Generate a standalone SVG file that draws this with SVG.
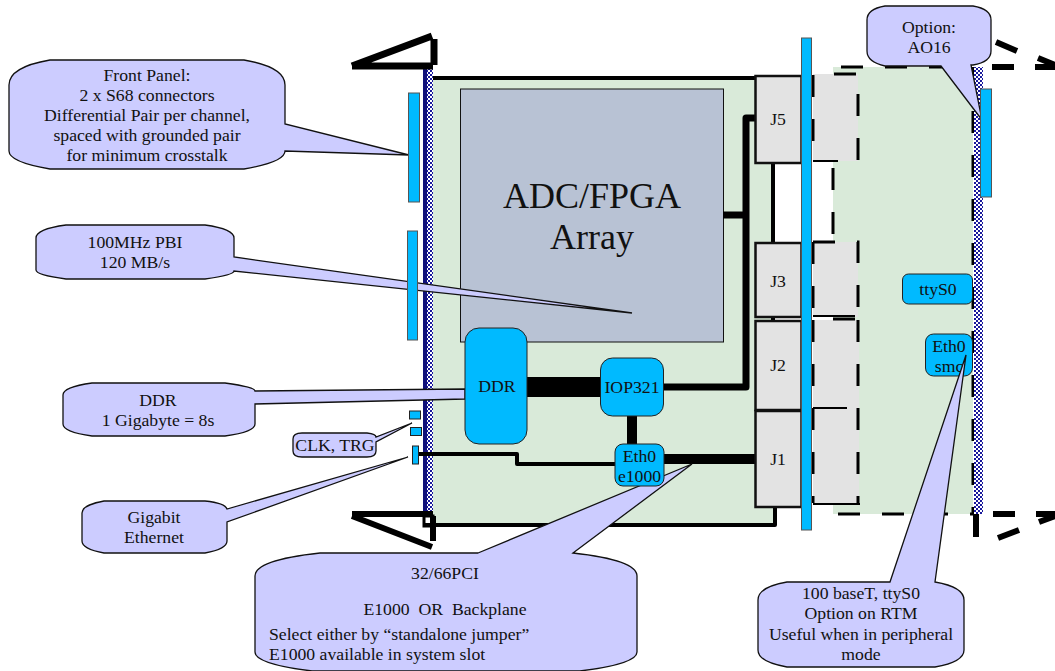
<svg xmlns="http://www.w3.org/2000/svg" width="1055" height="671" viewBox="0 0 1055 671">
<style>
text{font-family:"Liberation Serif","Times New Roman",serif;fill:#111;text-anchor:middle;font-size:17.7px;white-space:pre}
.co{fill:#ccccff;stroke:#111;stroke-width:1.3}
.bl{fill:#00baff;stroke:#222;stroke-width:1}
.bar{fill:#00baff;stroke:#555;stroke-width:1}
.j{fill:#e3e3e3;stroke:#111;stroke-width:2.5}
.gr{fill:#e3e3e3}
.w{fill:none;stroke:#000;stroke-linejoin:round}
.d{fill:none;stroke:#000;stroke-width:3;stroke-dasharray:22 22}
</style>
<defs>
<pattern id="chk" width="4" height="4" patternUnits="userSpaceOnUse">
<rect width="4" height="4" fill="#fff"/>
<rect width="2" height="2" fill="#1a1a9c"/>
<rect x="2" y="2" width="2" height="2" fill="#1a1a9c"/>
</pattern>
</defs>
<g id="rtm">
<rect x="833" y="67" width="140" height="447" fill="#d9ead9"/>
<rect class="gr" x="813" y="74" width="45" height="87"/>
<rect class="gr" x="813" y="242" width="45" height="75"/>
<rect class="gr" x="813" y="320" width="46" height="183"/>
<path class="d" d="M841 67H973M833 168V243M838 514H973M973 67V514"/>
<path class="d" d="M834 74H858V161M813 75V161"/>
<path class="d" d="M813 242H858V317M813 242V317M858 320V503M813 320V503"/>
<path class="w" stroke-width="2" d="M813 161H838M813 316H855M813 408H847M813 504H860"/>
<path class="w" stroke-width="3" d="M833 319H855"/>
</g>
<g id="right-plate">
<rect x="974" y="67" width="9" height="447" fill="url(#chk)"/>
<path d="M992 67H1014M1035 67H1055M993 514H1015M1036 514H1055M996 42L1017 51M1038 58L1055 65M998 538L1019 530M1039 522L1055 516" fill="none" stroke="#000" stroke-width="6"/>
<path d="M976 514V537" fill="none" stroke="#000" stroke-width="6"/>
</g>
<g id="board">
<rect x="432" y="78" width="341" height="447" fill="#d9ead9"/>
<path class="w" stroke-width="4" d="M430 78H756M424 525H775V505M773 163V243"/>
</g>
<g id="front-plate">
<rect x="423" y="69" width="10" height="443" fill="#10107a"/>
<rect x="427" y="69" width="6" height="443" fill="url(#chk)"/>
</g>
<g id="handles">
<path class="w" stroke-width="7" d="M352 66H433M352 66L432 36M434 39V65"/>
<path class="w" stroke-width="6" d="M352 514H433M352 516L432 547M433 516V541"/>
<rect x="424" y="516" width="9" height="10" fill="none" stroke="#000" stroke-width="3"/>
</g>
<g id="adc">
<rect x="460.500" y="89" width="263" height="253" fill="#b8c2d4" stroke="#111" stroke-width="1"/>
<text x="592" y="208" style="font-size:36px">ADC/FPGA</text>
<text x="592" y="249" style="font-size:36px">Array</text>
</g>
<g id="connectors">
<path class="w" stroke-width="20" d="M527 387H600"/>
<path class="w" stroke-width="7" d="M664 387H746V118H755M723 215H746"/>
<path class="w" stroke-width="10" d="M632 416V444M664 459H755"/>
<path class="w" stroke-width="4" d="M418 454H517V464H615"/>
<path class="w" stroke-width="4" d="M773 163V243M773 317V321"/>
</g>
<g id="callout-pci">
<path class="co" d="M478 553L692 464L573 553Q637 560 637 576V652Q637 664 580 671H312Q255 664 255 652V576Q255 560 320 553Z"/>
<text x="445" y="579">32/66PCI</text>
<text x="445" y="615">E1000  OR  Backplane</text>
<text x="269" y="640" style="text-anchor:start">Select either by “standalone jumper”</text>
<text x="269" y="660" style="text-anchor:start">E1000 available in system slot</text>
</g>
<g id="callout-front">
<path class="co" d="M50 60H244Q285 67 285 85V124L409 155L285 151Q285 162 244 169H50Q9 162 9 151V85Q9 67 50 60Z"/>
<text x="147" y="81">Front Panel:</text>
<text x="147" y="101">2 x S68 connectors</text>
<text x="147" y="121">Differential Pair per channel,</text>
<text x="147" y="141">spaced with grounded pair</text>
<text x="147" y="161">for minimum crosstalk</text>
</g>
<g id="callout-pbi">
<path class="co" d="M66 225H205Q234 229 234 238V257L632 313L234 271Q234 275 205 279H66Q36 275 36 270V238Q36 229 66 225Z"/>
<text x="135" y="248">100MHz PBI</text>
<text x="135" y="268">120 MB/s</text>
</g>
<g id="callout-ddr">
<path class="co" d="M92 383H225Q255 387 255 391L465 389V399L255 404V424Q255 432 225 436H92Q63 432 63 424V395Q63 387 92 383Z"/>
<text x="158" y="406">DDR</text>
<text x="158" y="426">1 Gigabyte = 8s</text>
</g>
<g id="callout-clk">
<path class="co" d="M302 433H367Q376 434 376 437L412 423L376 442V451Q376 457 367 457H302Q293 457 293 451V439Q293 433 302 433Z"/>
<text x="335" y="451">CLK, TRG</text>
</g>
<g id="callout-gig">
<path class="co" d="M104 501H205Q225 503 227 509L408 457L227 522V541Q227 549 205 553H104Q82 549 82 541V513Q82 505 104 501Z"/>
<text x="154" y="523">Gigabit</text>
<text x="154" y="543">Ethernet</text>
</g>
<g id="j5"><rect class="j" x="755.500" y="76" width="46" height="87"/><text x="778" y="125">J5</text></g>
<g id="j3"><rect class="j" x="755.500" y="243" width="46" height="74"/><text x="778" y="287">J3</text></g>
<g id="j2"><rect class="j" x="755.500" y="321" width="46" height="89"/><text x="778" y="371">J2</text></g>
<g id="j1"><rect class="j" x="755.500" y="411" width="46" height="96"/><text x="778" y="465">J1</text></g>
<g id="backplane-bar"><rect class="bar" x="801.500" y="38" width="10" height="492"/></g>
<g id="ddr"><rect class="bl" x="465" y="328" width="62" height="116" rx="14"/><text x="497" y="392">DDR</text></g>
<g id="iop321"><rect class="bl" x="600.500" y="358" width="63" height="58" rx="12"/><text x="632" y="393">IOP321</text></g>
<g id="eth0-e1000"><rect class="bl" x="615" y="444" width="49" height="42" rx="8"/><text x="639.500" y="462">Eth0</text><text x="639.500" y="482">e1000</text></g>
<g id="tty"><rect class="bl" x="902.500" y="274" width="70" height="30" rx="6"/><text x="938" y="295">ttyS0</text></g>
<g id="eth0-smc"><rect class="bl" x="925.500" y="334" width="47" height="42" rx="8"/><text x="949" y="352">Eth0</text><text x="949" y="372">smc</text></g>
<g id="callout-option">
<path class="co" d="M885 6H973Q991 9 991 20V51Q991 62 973 65H971L982 120L941 66H885Q867 62 867 51V20Q867 9 885 6Z"/>
<text x="929" y="33">Option:</text>
<text x="929" y="53">AO16</text>
</g>
<g id="callout-rtm">
<path class="co" d="M890 582L966 355L935 582H935Q964 587 964 600V650Q964 662 935 667H787Q758 662 758 650V600Q758 587 787 582Z"/>
<text x="861" y="599">100 baseT, ttyS0</text>
<text x="861" y="619">Option on RTM</text>
<text x="861" y="640">Useful when in peripheral</text>
<text x="861" y="660">mode</text>
</g>
<g id="panel-connectors">
<rect class="bar" x="408.500" y="93" width="11" height="109"/>
<rect class="bar" x="407.500" y="231" width="10" height="109"/>
<rect class="bar" x="980.500" y="89" width="11" height="108"/>
<rect class="bl" x="409.500" y="411" width="11" height="8"/>
<rect class="bl" x="410.500" y="427.500" width="11" height="8"/>
<rect class="bl" x="412.500" y="446" width="6" height="18"/>
</g>
</svg>
